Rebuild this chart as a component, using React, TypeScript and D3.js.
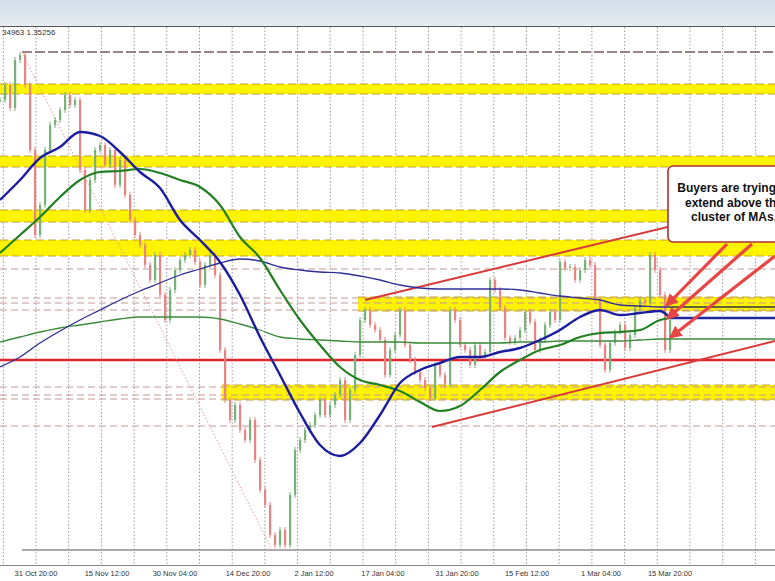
import React from 'react';
import * as d3 from 'd3';

// closes every 4H-ish bar
const closes: number[] = [
  1.3752, 1.3767, 1.3744, 1.3792, 1.3797, 1.3767, 1.3702, 1.3617, 1.3647, 1.3702,
  1.3727, 1.3732, 1.3742, 1.3757, 1.3747, 1.3752, 1.3682, 1.3642, 1.3672, 1.3702,
  1.3707, 1.3687, 1.3702, 1.3667, 1.3692, 1.3657, 1.3632, 1.3617, 1.3607, 1.3587,
  1.3572, 1.3597, 1.3557, 1.3532, 1.3562, 1.3582, 1.3592, 1.3597, 1.3602, 1.359,
  1.3567, 1.3587, 1.3597, 1.3577, 1.3502, 1.3452, 1.3432, 1.3447, 1.3422, 1.3412,
  1.3432, 1.3392, 1.3362, 1.3347, 1.3317, 1.3307, 1.3322, 1.3307, 1.3357, 1.3402,
  1.3412, 1.3422, 1.3427, 1.3437, 1.3452, 1.3437, 1.3447, 1.3457, 1.3472, 1.3432,
  1.3462, 1.3497, 1.3532, 1.3542, 1.3527, 1.3522, 1.3512, 1.3477, 1.3502, 1.3517,
  1.3542, 1.3507, 1.3492, 1.348, 1.3472, 1.3464, 1.3454, 1.3487, 1.3477, 1.3467,
  1.3542, 1.3532, 1.3507, 1.3502, 1.3487, 1.3507, 1.3495, 1.35, 1.3572, 1.3562,
  1.3544, 1.3514, 1.351, 1.3514, 1.3522, 1.354, 1.353, 1.3502, 1.3512, 1.3527,
  1.354, 1.3532, 1.359, 1.3584, 1.3585, 1.3572, 1.3582, 1.3592, 1.3587, 1.3552,
  1.3507, 1.3482, 1.3509, 1.352, 1.3527, 1.3504, 1.3517, 1.3544, 1.3552, 1.3549,
  1.3597, 1.3582, 1.3557, 1.3502, 1.3532,
];

// moving averages sampled every 4 bars (+ last bar)
const ma100: number[] = [
  1.3652, 1.3672, 1.3694, 1.3705, 1.372, 1.3716, 1.37, 1.368, 1.3664, 1.3632,
  1.3612, 1.359, 1.3557, 1.3515, 1.3477, 1.3439, 1.3407, 1.3396, 1.3409, 1.3437,
  1.3469, 1.3482, 1.3489, 1.3495, 1.3495, 1.35, 1.3504, 1.3512, 1.3522, 1.3535,
  1.3542, 1.3537, 1.3539, 1.3541, 1.3534,
];
const ma200: number[] = [
  1.3599, 1.3617, 1.3635, 1.3655, 1.3672, 1.368, 1.3681, 1.3683, 1.3679, 1.3672,
  1.3665, 1.3647, 1.3615, 1.3594, 1.3562, 1.3532, 1.3507, 1.3485, 1.3472, 1.3467,
  1.3461, 1.345, 1.3441, 1.3446, 1.3462, 1.348, 1.3492, 1.3502, 1.3507, 1.3515,
  1.3519, 1.352, 1.3522, 1.3532, 1.3534,
];
const dailyMa100: number[] = [
  1.3485, 1.3495, 1.3509, 1.3521, 1.3532, 1.3542, 1.3552, 1.3561, 1.3569, 1.3577,
  1.3583, 1.3589, 1.3593, 1.3591, 1.3585, 1.3582, 1.358, 1.3579, 1.3576, 1.3572,
  1.3567, 1.3564, 1.3563, 1.3563, 1.3563, 1.3563, 1.3562, 1.3559, 1.3556, 1.3554,
  1.3552, 1.3547, 1.3546, 1.3545, 1.3545,
];
const dailyMa200: number[] = [
  1.351, 1.3515, 1.352, 1.3524, 1.3527, 1.353, 1.3533, 1.3535, 1.3535, 1.3535,
  1.3535, 1.3533, 1.3528, 1.3522, 1.3515, 1.3513, 1.3512, 1.3511, 1.351, 1.351,
  1.351, 1.3509, 1.3509, 1.3509, 1.3509, 1.3509, 1.351, 1.351, 1.3511, 1.3511,
  1.3511, 1.3511, 1.3512, 1.3513, 1.3513,
];

// support / resistance zones [top, bottom] and where they start (bar)
const zones: [number, number, number][] = [
  [1.3768, 1.3758, 0],
  [1.3696, 1.3685, 0],
  [1.3642, 1.363, 0],
  [1.3612, 1.3596, 0],
  [1.3555, 1.3541, 71.6],
  [1.3467, 1.3452, 44.4],
];
const dashedLevels: number[] = [1.3583, 1.3554, 1.3549, 1.3542, 1.3465, 1.3457, 1.3453, 1.3426];
const redLevel = 1.3492;
const highLevel = 1.38;
const lowLevel = 1.3302;

const upperChannel: [number, number][] = [[73, 1.3552], [155, 1.3651]];
const lowerChannel: [number, number][] = [[86.4, 1.3425], [155, 1.3511]];
const swingLine: [number, number][] = [[4.4, 1.38], [54.4, 1.3302]];

const timeLabels: [number, string][] = [
  [7.2, '31 Oct 20:00'],
  [21.4, '15 Nov 12:00'],
  [35, '30 Nov 04:00'],
  [49.6, '14 Dec 20:00'],
  [62.8, '2 Jan 12:00'],
  [76.6, '17 Jan 04:00'],
  [91.4, '31 Jan 20:00'],
  [105.4, '15 Feb 12:00'],
  [120.2, '1 Mar 04:00'],
  [134, '15 Mar 20:00'],
];

const noteLines = ['Buyers are trying to', 'extend above the', 'cluster of MAs.'];

const W = 775;
const H = 581;

export default function App() {
  const x = d3.scaleLinear().domain([0, 155]).range([0, W]);
  const y = d3.scaleLinear().domain([1.3825, 1.3287]).range([27, 565]);

  const maIdx = d3.range(0, 133, 4).concat([134]);
  const line = d3
    .line<number>()
    .x((_, i) => x(maIdx[i]))
    .y((d) => y(d))
    .curve(d3.curveMonotoneX);

  const lastBar = closes.length - 1;
  const grid = d3.range(0, 24).map((k) => 0.66 + 6.54 * k);

  const seg = (p: [number, number][]) => ({
    x1: x(p[0][0]),
    y1: y(p[0][1]),
    x2: x(p[1][0]),
    y2: y(p[1][1]),
  });

  // arrows from the note box to the MAs
  const arrows: [number, number, number, number][] = [
    [727, 244, x(lastBar) - 3, y(1.3547)],
    [752, 244, x(lastBar) - 2, y(1.3534)],
    [775, 256, x(lastBar) + 1, y(1.3515)],
  ];

  return (
    <svg
      width={W}
      height={H}
      style={{ position: 'absolute', left: 0, top: 0, background: '#fff' }}
      fontFamily="'Liberation Sans', Arial, sans-serif"
    >
      <defs>
        <linearGradient id="hdr" x1="0" y1="0" x2="0" y2="1">
          <stop offset="0" stopColor="#d3dde8" />
          <stop offset="1" stopColor="#e6ecf2" />
        </linearGradient>
        <marker id="ah" viewBox="0 0 10 10" refX="8" refY="5" markerWidth="4" markerHeight="4" orient="auto">
          <path d="M0,0 L10,5 L0,10 z" fill="#e84545" />
        </marker>
      </defs>
      <rect x={0} y={0} width={W} height={26} fill="url(#hdr)" />

      {/* grid */}
      {grid.map((g, i) => (
        <line key={i} x1={x(g)} x2={x(g)} y1={27} y2={565} stroke="#9a9aa0" strokeDasharray="1.5,2" />
      ))}

      {/* zones */}
      {zones.map(([t, b, s], i) => (
        <g key={i}>
          <rect x={x(s)} y={y(t)} width={W - x(s)} height={y(b) - y(t)} fill="#fdf200" />
          <line x1={x(s)} x2={W} y1={y(t)} y2={y(t)} stroke="#c8a030" strokeDasharray="8,4" />
          <line x1={x(s)} x2={W} y1={y(b)} y2={y(b)} stroke="#c8a030" strokeDasharray="8,4" />
        </g>
      ))}
      {dashedLevels.map((d, i) => (
        <line key={i} x1={0} x2={W} y1={y(d)} y2={y(d)} stroke="#c69898" strokeDasharray="7,4" />
      ))}
      <line x1={x(4.4)} x2={W} y1={y(highLevel)} y2={y(highLevel)} stroke="#7a5e5e" strokeWidth={1.5} strokeDasharray="10,3" />
      <line x1={x(4.4)} x2={W} y1={y(lowLevel)} y2={y(lowLevel)} stroke="#8c8c8c" strokeWidth={1.5} />
      <line x1={0} x2={W} y1={y(redLevel)} y2={y(redLevel)} stroke="#e3262b" strokeWidth={2.5} />

      <line {...seg(swingLine)} stroke="#e29a9a" strokeDasharray="1.5,2" />
      <line {...seg(upperChannel)} stroke="#d83a3a" strokeWidth={2} />
      <line {...seg(lowerChannel)} stroke="#d83a3a" strokeWidth={2} />

      {/* candles */}
      {closes.map((c, i) => {
        const o = i === 0 ? c : closes[i - 1];
        const up = c >= o;
        const top = y(Math.max(o, c));
        const bot = y(Math.min(o, c));
        const col = up ? '#79b279' : '#e88484';
        return (
          <g key={i}>
            <line x1={x(i)} x2={x(i)} y1={top - 3} y2={bot + 3} stroke={col} strokeWidth={1} />
            <rect x={x(i) - 1} y={top} width={2.2} height={Math.max(1, bot - top)} fill={col} />
          </g>
        );
      })}

      {/* moving averages */}
      <path d={line(dailyMa200) ?? ''} fill="none" stroke="#3b8b3b" strokeWidth={1.3} />
      <path d={line(dailyMa100) ?? ''} fill="none" stroke="#2e2e96" strokeWidth={1.3} />
      <path d={line(ma200) ?? ''} fill="none" stroke="#218021" strokeWidth={2.2} />
      <path d={line(ma100) ?? ''} fill="none" stroke="#1c1c9e" strokeWidth={2.4} />

      <line x1={x(lastBar)} x2={W} y1={y(dailyMa200[34])} y2={y(dailyMa200[34])} stroke="#3b8b3b" strokeWidth={1.3} />
      <line x1={x(lastBar)} x2={W} y1={y(dailyMa100[34])} y2={y(dailyMa100[34])} stroke="#2e2e50" strokeWidth={1.3} />
      <line x1={x(lastBar)} x2={W} y1={y(ma100[34])} y2={y(ma100[34])} stroke="#1c2a9e" strokeWidth={2.6} />

      {/* note */}
      {arrows.map(([x1, y1, x2, y2], i) => (
        <line key={i} x1={x1} y1={y1} x2={x2} y2={y2} stroke="#e84545" strokeWidth={3.2} markerEnd="url(#ah)" />
      ))}
      <rect x={668} y={166} width={140} height={76} rx={5} fill="#fff" stroke="#a83232" strokeWidth={1.6} />
      {noteLines.map((t, i) => (
        <text key={i} x={734} y={192 + i * 14.5} textAnchor="middle" fontSize={12} fontWeight="bold" fill="#111">
          {t}
        </text>
      ))}

      {/* frame and labels */}
      <line x1={0} x2={W} y1={26.5} y2={26.5} stroke="#555" />
      <line x1={0} x2={W} y1={565.5} y2={565.5} stroke="#888" />
      <text x={2} y={35} fontSize={8} fill="#333">
        34963 1.35256
      </text>
      {timeLabels.map(([b, t], i) => (
        <text key={i} x={x(b)} y={576} fontSize={7.5} textAnchor="middle" fill="#333">
          {t}
        </text>
      ))}
    </svg>
  );
}
